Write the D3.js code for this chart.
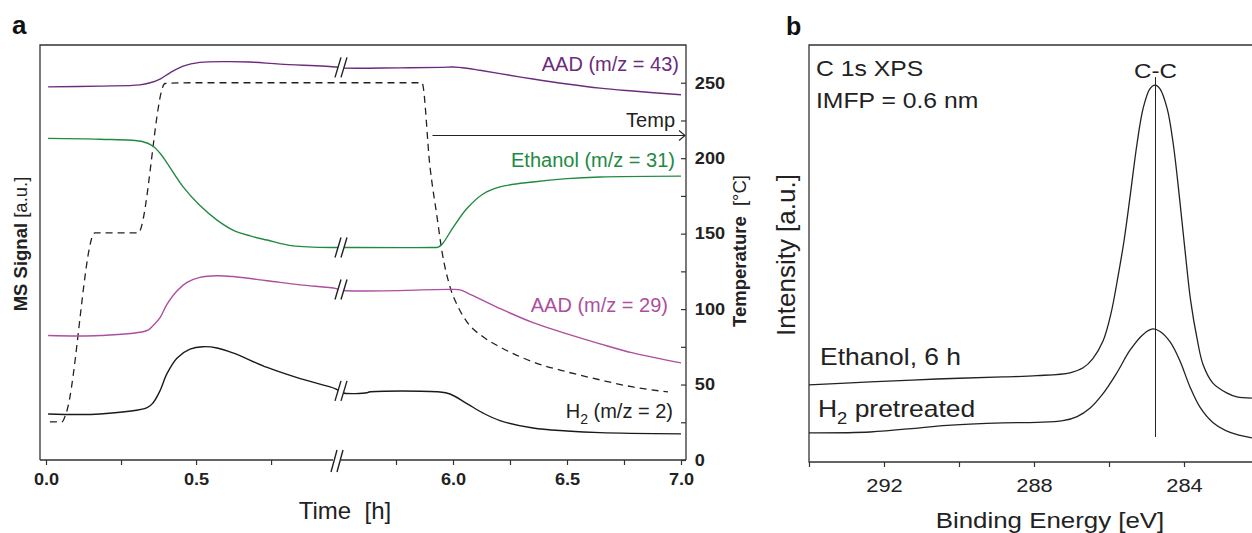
<!DOCTYPE html>
<html>
<head>
<meta charset="utf-8">
<script src="https://cdn.jsdelivr.net/npm/d3@7"></script>
<style>
  body { margin: 0; background: #fff; }
  svg { display: block; }
  text { font-family: "Liberation Sans", Arial, Helvetica, sans-serif; }
</style>
</head>
<body>
<svg id="fig" width="1252" height="533"></svg>
<script>
// ---------------- Panel a: MS signals and temperature vs time ----------------
const timeTicks      = [0, 0.25, 0.5, 0.75, 5.75, 6.0, 6.25, 6.5, 6.75, 7.0];
const timeTickLabels = ["0.0", "", "0.5", "", "", "6.0", "", "6.5", "", "7.0"];
const tempTicks      = [0, 25, 50, 75, 100, 125, 150, 175, 200, 225, 250];
const tempTickLabels = ["0", "", "50", "", "100", "", "150", "", "200", "", "250"];

// [time (h), MS signal (a.u.)]
const aad43 = [
  [0.007, 89.9], [0.18, 90.1], [0.313, 90.4], [0.347, 90.9], [0.38, 91.8], [0.413, 93.3],
  [0.457, 94.9], [0.513, 95.8], [0.60, 96.0], [0.68, 95.9], [0.78, 95.4], [0.967, 94.7],
  [5.504, 94.5], [5.768, 94.5], [5.95, 94.6], [6.0, 94.7], [6.06, 94.4], [6.118, 93.9],
  [6.206, 93.1], [6.351, 91.8], [6.5, 90.6], [6.645, 89.6], [6.789, 88.9], [7.0, 88.0]
];
const ethanol31 = [
  [0.007, 77.5], [0.18, 77.3], [0.323, 76.7], [0.357, 75.6], [0.38, 73.9], [0.403, 71.6],
  [0.457, 65.8], [0.513, 61.3], [0.57, 57.8], [0.623, 55.4], [0.68, 54.0], [0.737, 53.0],
  [0.823, 51.6], [0.967, 51.2], [5.504, 51.2], [5.90, 51.2], [5.935, 51.3], [5.955, 52.2],
  [6.0, 56.0], [6.061, 60.6], [6.132, 64.1], [6.206, 65.8], [6.351, 67.0], [6.5, 67.8],
  [6.645, 68.2], [7.0, 68.4]
];
const aad29 = [
  [0.007, 30.0], [0.18, 30.0], [0.337, 31.2], [0.357, 32.4], [0.38, 34.3], [0.403, 37.5],
  [0.437, 40.8], [0.47, 42.8], [0.513, 44.0], [0.57, 44.4], [0.623, 44.2], [0.737, 43.2],
  [0.847, 42.2], [0.967, 41.3], [5.504, 40.9], [5.987, 41.1], [6.031, 41.0], [6.08, 39.8],
  [6.206, 36.5], [6.351, 33.1], [6.5, 30.4], [6.645, 28.0], [6.789, 25.8], [7.0, 23.4]
];
const h2 = [
  [0.007, 11.1], [0.18, 11.1], [0.337, 12.6], [0.357, 13.8], [0.38, 16.7], [0.403, 20.8],
  [0.437, 24.6], [0.48, 26.7], [0.523, 27.3], [0.57, 27.0], [0.623, 25.8], [0.737, 22.3],
  [0.847, 19.6], [0.967, 17.1], [5.513, 16.2], [5.623, 16.2], [5.632, 16.4], [5.943, 16.4],
  [5.987, 15.9], [6.061, 13.6], [6.132, 11.3], [6.206, 9.5], [6.351, 7.7], [6.5, 7.0],
  [6.645, 6.6], [7.0, 6.3]
];
// [time (h), temperature (°C)]
const temperature = [
  [0.013, 25.2], [0.053, 25.2], [0.067, 31.0], [0.163, 150.5], [0.307, 150.5], [0.397, 249.5],
  [0.5, 250], [5.864, 250], [5.899, 194.3], [5.930, 161.1], [5.952, 137.9], [5.987, 114.7],
  [6.022, 101.5], [6.061, 91.5], [6.132, 81.6], [6.206, 74.9], [6.351, 65.0], [6.5, 58.4],
  [6.645, 53.1], [6.789, 48.4], [6.943, 45.1]
];

// ---------------- Panel b: C 1s XPS spectra ----------------
const beTicks      = [294, 292, 290, 288, 286, 284, 282];
const beTickLabels = ["", "292", "", "288", "", "284", ""];
// [binding energy (eV), intensity (a.u.)]
const ethanol6h = [
  [294.00, 18.5], [292.37, 19.2], [290.59, 19.9], [288.83, 20.4], [287.92, 20.7], [287.04, 21.4],
  [286.69, 22.6], [286.43, 24.8], [286.16, 29.0], [285.95, 35.5], [285.75, 45.0], [285.60, 53.0],
  [285.44, 63.5], [285.25, 76.5], [285.09, 84.8], [284.91, 89.5], [284.77, 90.4], [284.64, 89.5],
  [284.45, 84.8], [284.29, 76.5], [284.11, 62.5], [283.97, 50.5], [283.82, 38.5], [283.65, 29.5],
  [283.49, 23.3], [283.23, 18.9], [282.85, 16.5], [282.59, 15.6], [282.19, 15.3]
];
const h2Pretreated = [
  [294.00, 7.0], [292.37, 7.2], [291.04, 8.2], [290.43, 8.7], [289.71, 9.1], [288.83, 9.4],
  [287.92, 9.5], [287.23, 9.9], [286.85, 10.9], [286.51, 12.9], [286.16, 16.4], [285.79, 21.4],
  [285.44, 26.8], [285.09, 30.6], [284.83, 31.9], [284.64, 31.3], [284.37, 28.8], [284.11, 24.3],
  [283.84, 18.0], [283.57, 13.1], [283.23, 9.5], [282.77, 7.1], [282.19, 5.8]
];
const ccPosition = 284.76;          // C-C component marker (eV)
const ccMarkerRange = [6.0, 92.3];  // marker extent in intensity units

// ----------------------------------------------------------------
const svg = d3.select("#fig");
const ink = "#222";
const colors = { aad43: "#6c2b7d", ethanol: "#218a42", aad29: "#ad4f9e", h2: "#1a1a1a" };

// ===== Panel a =====
const aLeft = 40, aRight = 686, aTop = 45, aBottom = 460;
const xA = d3.scaleLinear().domain([0, 0.973, 5.5, 7.0]).range([46, 338, 339, 681]);
const ySig = d3.scaleLinear().domain([0, 100]).range([aBottom, aTop]);
const yTemp = d3.scaleLinear().domain([0, 275]).range([aBottom, aTop]);

const gA = svg.append("g");

// frame: left, top and right edges
gA.append("path")
  .attr("d", `M${aLeft},${aBottom}V${aTop}H${aRight}V${aBottom}`)
  .attr("fill", "none").attr("stroke", "#333").attr("stroke-width", 1.3);

// bottom axis line with a gap for the break
const breakX = xA(0.973);
gA.append("path")
  .attr("d", `M${aLeft},${aBottom}H${breakX - 5}M${breakX + 3},${aBottom}H${aRight}`)
  .attr("fill", "none").attr("stroke", "#333").attr("stroke-width", 1.3);

function styleTickText(sel, size, bold, stretch) {
  sel.style("font-size", size + "px")
    .style("font-weight", bold ? "bold" : "normal")
    .style("font-family", "'Liberation Sans', Arial, sans-serif")
    .attr("fill", ink)
    .attr("transform", `scale(${stretch},1)`);
}

const xAxisA = d3.axisBottom(xA).tickValues(timeTicks)
  .tickFormat((d, i) => timeTickLabels[i]).tickSize(5).tickPadding(8);
const gx = gA.append("g").attr("transform", `translate(0,${aBottom})`).call(xAxisA);
gx.select(".domain").remove();
gx.selectAll(".tick line").attr("stroke", "#333").attr("stroke-width", 1.2);
styleTickText(gx.selectAll(".tick text"), 16.5, true, 1.1);

const yAxisT = d3.axisRight(yTemp).tickValues(tempTicks)
  .tickFormat((d, i) => tempTickLabels[i]).tickSizeInner(-5).tickSizeOuter(0).tickPadding(8);
const gy = gA.append("g").attr("transform", `translate(${aRight},0)`).call(yAxisT);
gy.select(".domain").remove();
gy.selectAll(".tick line").attr("stroke", "#333").attr("stroke-width", 1.2);
styleTickText(gy.selectAll(".tick text"), 16.5, true, 1.1);

// lines
const lineSig = d3.line().x(d => xA(d[0])).y(d => ySig(d[1])).curve(d3.curveCatmullRom.alpha(0.5));
const lineTemp = d3.line().x(d => xA(d[0])).y(d => yTemp(d[1])).curve(d3.curveMonotoneX);

gA.append("path").datum(temperature).attr("d", lineTemp)
  .attr("fill", "none").attr("stroke", ink).attr("stroke-width", 1.3)
  .attr("stroke-dasharray", "7,5");

const series = [
  { data: aad43, color: colors.aad43 },
  { data: ethanol31, color: colors.ethanol },
  { data: aad29, color: colors.aad29 },
  { data: h2, color: colors.h2 }
];
series.forEach(s => {
  gA.append("path").datum(s.data).attr("d", lineSig)
    .attr("fill", "none").attr("stroke", s.color).attr("stroke-width", 1.4);
});

// axis-break marks "//"
function breakMark(g, cx, cy, half) {
  g.append("path")
    .attr("d", `M${cx - 6},${cy + half}L${cx},${cy - half}L${cx + 6},${cy - half}L${cx},${cy + half}Z`)
    .attr("fill", "#fff").attr("stroke", "none");
  g.append("path")
    .attr("d", `M${cx - 6},${cy + half}L${cx},${cy - half}M${cx},${cy + half}L${cx + 6},${cy - half}`)
    .attr("fill", "none").attr("stroke", ink).attr("stroke-width", 1.4);
}
series.forEach(s => {
  const before = s.data.filter(d => d[0] < 1).pop();
  const after = s.data.find(d => d[0] > 5);
  const cy = (ySig(before[1]) + ySig(after[1])) / 2;
  breakMark(gA, breakX + 3, cy, 10);
});
breakMark(gA, breakX - 1, aBottom + 1, 11);

// temperature annotation arrow
const arrowY = yTemp(215);
const arrowX0 = xA(5.91);
gA.append("path")
  .attr("d", `M${arrowX0},${arrowY}H${aRight - 1}M${aRight - 7},${arrowY - 5}L${aRight - 1},${arrowY}L${aRight - 7},${arrowY + 5}`)
  .attr("fill", "none").attr("stroke", ink).attr("stroke-width", 1.1);

// series labels
function seriesLabel(x, y, txt, color) {
  return gA.append("text").attr("x", x).attr("y", y).attr("text-anchor", "end")
    .attr("font-size", 20).attr("fill", color).text(txt);
}
seriesLabel(679, 71, "AAD (m/z = 43)", colors.aad43);
seriesLabel(675, 127, "Temp", ink);
seriesLabel(675, 167, "Ethanol (m/z = 31)", colors.ethanol);
seriesLabel(668, 312, "AAD (m/z = 29)", colors.aad29);
const h2Lbl = gA.append("text").attr("x", 673).attr("y", 418).attr("text-anchor", "end")
  .attr("font-size", 20).attr("fill", ink);
h2Lbl.append("tspan").text("H");
h2Lbl.append("tspan").attr("dy", 6).attr("font-size", 14).text("2");
h2Lbl.append("tspan").attr("dy", -6).text(" (m/z = 2)");

// axis titles
const msT = gA.append("text").attr("transform", "translate(27,244) rotate(-90)")
  .attr("text-anchor", "middle").attr("font-size", 18.5).attr("fill", ink);
msT.append("tspan").attr("font-weight", "bold").text("MS Signal ");
msT.append("tspan").text("[a.u.]");

const tT = gA.append("text").attr("transform", "translate(746,251) rotate(-90)")
  .attr("text-anchor", "middle").attr("font-size", 18.5).attr("fill", ink)
  .attr("xml:space", "preserve");
tT.append("tspan").attr("font-weight", "bold").text("Temperature");
tT.append("tspan").text("  [°C]");

gA.append("text").attr("x", 345).attr("y", 519).attr("text-anchor", "middle")
  .attr("font-size", 24).attr("fill", ink).attr("xml:space", "preserve").text("Time  [h]");

gA.append("text").attr("x", 12).attr("y", 34).attr("font-size", 26)
  .attr("font-weight", "bold").attr("fill", "#111").text("a");

// ===== Panel b =====
const bLeft = 809, bRight = 1262, bTop = 45, bBottom = 462;
const xB = d3.scaleLinear().domain([294, 282]).range([bLeft, 1259]);
const yB = d3.scaleLinear().domain([0, 100]).range([bBottom, bTop]);
const sx = 1.15; // horizontal text stretch used in this panel

const gB = svg.append("g");
gB.append("path")
  .attr("d", `M${bRight},${bTop}H${bLeft}V${bBottom}H${bRight}`)
  .attr("fill", "none").attr("stroke", "#333").attr("stroke-width", 1.3);

const xAxisB = d3.axisBottom(xB).tickValues(beTicks)
  .tickFormat((d, i) => beTickLabels[i]).tickSize(5).tickPadding(12);
const gxb = gB.append("g").attr("transform", `translate(0,${bBottom})`).call(xAxisB);
gxb.select(".domain").remove();
gxb.selectAll(".tick line").attr("stroke", "#333").attr("stroke-width", 1.2);
styleTickText(gxb.selectAll(".tick text"), 19, false, sx);

const lineB = d3.line().x(d => xB(d[0])).y(d => yB(d[1])).curve(d3.curveCatmullRom.alpha(0.5));
[ethanol6h, h2Pretreated].forEach(data => {
  gB.append("path").datum(data).attr("d", lineB)
    .attr("fill", "none").attr("stroke", ink).attr("stroke-width", 1.3);
});

gB.append("line")
  .attr("x1", xB(ccPosition)).attr("x2", xB(ccPosition))
  .attr("y1", yB(ccMarkerRange[0])).attr("y2", yB(ccMarkerRange[1]))
  .attr("stroke", ink).attr("stroke-width", 1);

function bText(x, y, anchor, size) {
  return gB.append("text").attr("transform", `translate(${x},${y}) scale(${sx},1)`)
    .attr("text-anchor", anchor).attr("font-size", size).attr("fill", ink);
}
bText(816, 76, "start", 21.5).text("C 1s XPS");
bText(816, 108, "start", 21.5).text("IMFP = 0.6 nm");
bText(xB(ccPosition), 78, "middle", 21).text("C-C");
bText(820, 365, "start", 23).text("Ethanol, 6 h");
const h2p = bText(818, 417, "start", 23);
h2p.append("tspan").text("H");
h2p.append("tspan").attr("dy", 7).attr("font-size", 16).text("2");
h2p.append("tspan").attr("dy", -7).text(" pretreated");
bText(1050, 528, "middle", 22.5).text("Binding Energy [eV]");

gB.append("text").attr("transform", "translate(795,255) rotate(-90)")
  .attr("text-anchor", "middle").attr("font-size", 26).attr("fill", ink)
  .text("Intensity [a.u.]");

gB.append("text").attr("x", 786).attr("y", 35).attr("font-size", 25)
  .attr("font-weight", "bold").attr("fill", "#111").text("b");
</script>
</body>
</html>
